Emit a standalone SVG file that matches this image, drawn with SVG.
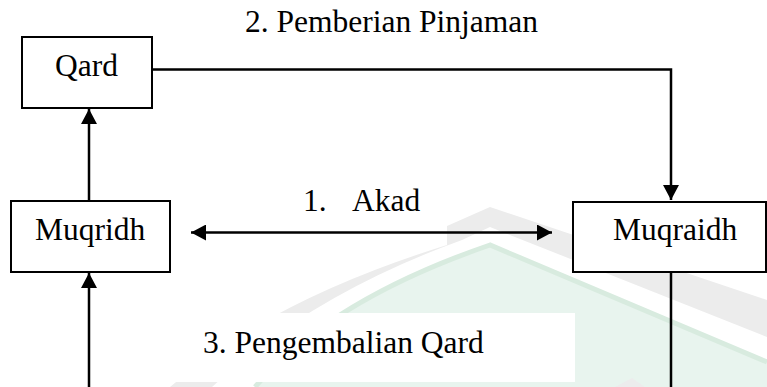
<svg xmlns="http://www.w3.org/2000/svg" width="767" height="387" viewBox="0 0 767 387">
<style>
.box{fill:#fff;stroke:#000;stroke-width:2}
.lbl{font-family:"Liberation Serif","Times New Roman",serif;font-size:31.5px;fill:#000}
.con{fill:none;stroke:#000;stroke-width:2.5}
</style>
<defs>
<marker id="ah" markerUnits="userSpaceOnUse" markerWidth="16" markerHeight="16" refX="15" refY="8" orient="auto-start-reverse" viewBox="0 0 16 16">
<path d="M0,0 L15,8 L0,16 Z" fill="#000"/>
</marker>
</defs>
<rect width="767" height="387" fill="#fff"/>
<g id="watermark">
<path d="M170,387 Q270,300 447,245 L447,226 L490,207 L767,300 L767,337 L490,227 L462,240 Q310,295 212,387 Z" fill="#ececec"/>
<path d="M255,387 Q330,300 490,245 L767,362 L767,387 Z" fill="#e8f4ee"/>
<path d="M255,387 Q330,300 490,245 L767,362" fill="none" stroke="#d8ebdf" stroke-width="5"/>
<path d="M615,387 L632,378 L645,387 Z" fill="#ececec"/>
<rect x="175" y="313" width="400" height="69" fill="#fff"/>
</g>
<g id="connectors">
<path class="con" d="M152,69.5 H671 V200" marker-end="url(#ah)"/>
<path class="con" d="M89,201 V109" marker-end="url(#ah)"/>
<path class="con" d="M191,232.5 H552" marker-start="url(#ah)" marker-end="url(#ah)"/>
<path class="con" d="M671,272 V400 H89 V273" marker-end="url(#ah)"/>
</g>
<g id="label-pemberian"><text class="lbl" x="245" y="32">2. Pemberian Pinjaman</text></g>
<g id="label-akad"><text class="lbl" y="211"><tspan x="303">1.</tspan><tspan x="352">Akad</tspan></text></g>
<g id="label-pengembalian"><text class="lbl" x="203" y="353">3. Pengembalian Qard</text></g>
<g id="node-qard">
<rect class="box" x="22" y="37" width="130" height="71"/>
<text class="lbl" x="55" y="76">Qard</text>
</g>
<g id="node-muqridh">
<rect class="box" x="11" y="201" width="159" height="71"/>
<text class="lbl" x="35" y="240">Muqridh</text>
</g>
<g id="node-muqraidh">
<rect class="box" x="573" y="202" width="193" height="70"/>
<text class="lbl" x="613" y="240">Muqraidh</text>
</g>
</svg>
